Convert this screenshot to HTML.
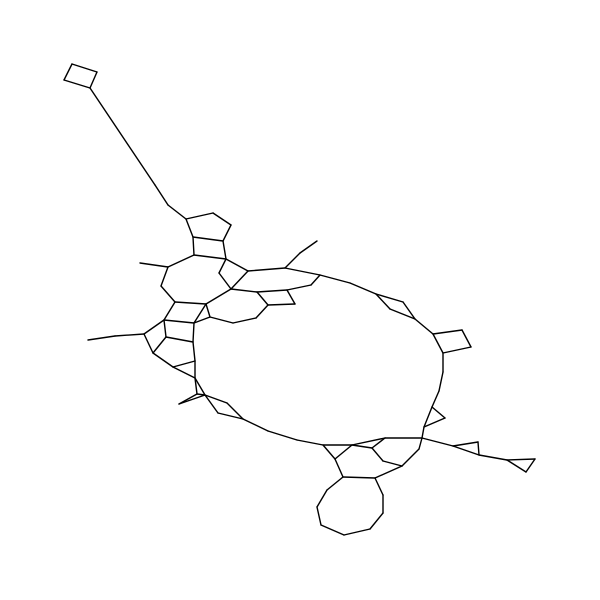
<!DOCTYPE html>
<html><head><meta charset="utf-8">
<style>html,body{margin:0;padding:0;background:#fff;}svg{display:block;}</style>
</head><body>
<svg id="g" width="600" height="600" viewBox="0 0 600 600"></svg>
<script>
const nodes = [
 [64,80],[72,64],[97,72],[90,88],
 [155,185],[168,205],[186,219],
 [213,213],[231,225],[223,241],[193,237],
 [226,259],[194,255],
 [168,267],[161,286],[175,302],[206,304],[231,289],
 [140,263],
 [219,273],[248,271],
 [285,268],[320,275],[311,285],[287,290],[257,292],
 [300,253],[317,241],
 [268,305],[295,304],
 [256,318],[233,323],[210,317],
 [194,323],[164,320],
 [193,342],[166,337],
 [153,353],[173,367],[195,361],
 [144,334],[115,336],[88,340],
 [195,378],[197,394],[179,404],[205,395],[227,403],[243,419],[218,413],
 [268,431],[297,440],[323,445],
 [352,445],[385,438],[422,438],[335,459],
 [372,448],[383,461],[402,466],[419,449],
 [343,477],[375,478],
 [327,490],[317,507],[321,525],[344,535],[370,529],[383,513],[383,495],
 [453,446],[479,455],[507,460],[526,472],[535,459],[478,442],
 [424,427],[432,407],[439,391],[443,372],[445,418],
 [443,353],[433,334],[462,330],[471,347],
 [415,319],[403,302],[390,309],[376,294],[350,283]
];
const edges = [
 [0,1],[1,2],[2,3],[3,0],[3,4],[4,5],[5,6],
 [6,7],[7,8],[8,9],[9,10],[10,6],
 [9,11],[11,12],[12,10],
 [12,13],[13,14],[14,15],[15,16],[16,17],[18,13],
 [11,19],[19,17],[11,20],[20,17],
 [20,21],[21,22],[22,23],[23,24],[24,25],[25,17],[21,26],[26,27],
 [25,28],[28,29],[29,24],
 [28,30],[30,31],[31,32],[32,16],
 [16,33],[33,32],[15,34],[34,33],
 [34,36],[33,35],[35,36],
 [36,37],[37,38],[38,39],[39,35],
 [40,34],[40,37],[42,41],[41,40],
 [38,43],[43,39],
 [43,44],[44,45],[45,46],[46,44],[43,46],[46,47],[47,48],[48,49],[49,46],
 [48,50],[50,51],[51,52],
 [52,53],[53,54],[54,55],[52,56],[56,53],
 [53,57],[57,54],[57,58],[58,59],[59,60],[60,55],
 [56,61],[61,62],[62,59],
 [61,63],[63,64],[64,65],[65,66],[66,67],[67,68],[68,69],[69,62],
 [55,70],[70,71],[71,72],[72,73],[73,74],[74,72],[70,75],[75,71],
 [55,76],[76,77],[77,78],[78,79],[76,80],[80,77],
 [79,81],[81,82],[82,83],[83,84],[84,81],
 [82,85],[85,86],[86,88],[88,87],[87,85],
 [88,89],[89,22]
];
const svg = document.getElementById('g');
const NS = 'http://www.w3.org/2000/svg';
edges.forEach(function(e){
  const a = nodes[e[0]], b = nodes[e[1]];
  const l = document.createElementNS(NS, 'line');
  l.setAttribute('x1', a[0]); l.setAttribute('y1', a[1]);
  l.setAttribute('x2', b[0]); l.setAttribute('y2', b[1]);
  l.setAttribute('stroke', '#000');
  l.setAttribute('stroke-width', '1.4');
  l.setAttribute('stroke-linecap', 'round');
  
  
  svg.appendChild(l);
});
</script>
</body></html>
